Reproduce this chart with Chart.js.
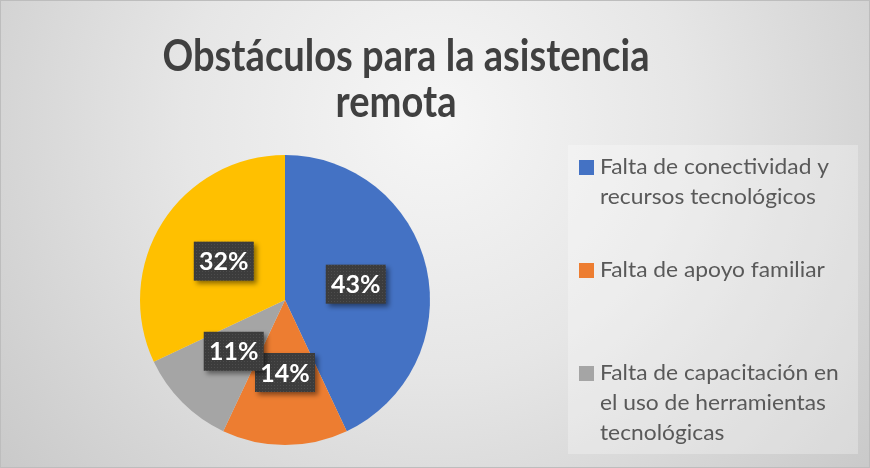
<!DOCTYPE html>
<html>
<head>
<meta charset="utf-8">
<script src="https://cdn.jsdelivr.net/npm/chart.js@4/dist/chart.umd.min.js"></script>
<style>
  html, body { margin: 0; padding: 0; background: #fff; }
  #wrap { position: relative; width: 870px; height: 468px; }
</style>
</head>
<body>
<div id="wrap"><canvas id="chart" width="870" height="468"></canvas></div>
<script>
// Data
const titleLines = ['Obstáculos para la asistencia', 'remota'];
const categories = [
  ['Falta de conectividad y', 'recursos tecnológicos'],
  ['Falta de apoyo familiar'],
  ['Falta de capacitación en', 'el uso de herramientas', 'tecnológicas'],
  ['Otros']
];
const values = [43, 14, 11, 32];
const colors = ['#4472C4', '#ED7D31', '#A5A5A5', '#FFC000'];
const legendShown = 3; // the last entry is clipped in the original

// Background with radial gradient, border and title
const bgPlugin = {
  id: 'bg',
  beforeDraw(chart) {
    const { ctx, width, height } = chart;
    ctx.save();
    const g = ctx.createRadialGradient(435, 120, 0, 435, 120, 560);
    g.addColorStop(0, '#f6f6f6');
    g.addColorStop(0.45, '#e6e6e6');
    g.addColorStop(1, '#c9c9c9');
    ctx.fillStyle = g;
    ctx.fillRect(0, 0, width, height);
    ctx.strokeStyle = '#bdbdbd';
    ctx.lineWidth = 1;
    ctx.strokeRect(0.5, 0.5, width - 1, height - 1);

    // title, squeezed a bit to mimic a narrower face
    ctx.fillStyle = '#404040';
    ctx.font = 'bold 43px Lato, "Liberation Sans", sans-serif';
    ctx.textAlign = 'center';
    ctx.textBaseline = 'alphabetic';
    const sx = 487 / ctx.measureText(titleLines[0]).width;
    ctx.translate(406, 0);
    ctx.scale(sx, 1);
    ctx.fillText(titleLines[0], 0, 71);
    ctx.fillText(titleLines[1], -10 / sx, 117);
    ctx.restore();
  }
};

// Legend on the right, inside a lighter box
const legendPlugin = {
  id: 'sideLegend',
  afterDraw(chart) {
    const { ctx } = chart;
    ctx.save();
    ctx.fillStyle = 'rgba(255,255,255,0.28)';
    ctx.fillRect(568, 145, 290, 309);
    ctx.font = '22px Lato, "Liberation Sans", sans-serif';
    ctx.textAlign = 'left';
    ctx.textBaseline = 'alphabetic';
    const sx = 229 / ctx.measureText(categories[0][0]).width;
    const starts = [174, 277, 380];
    for (let i = 0; i < legendShown; i++) {
      const y0 = starts[i];
      ctx.fillStyle = colors[i];
      ctx.fillRect(579, y0 - 14, 15, 15);
      ctx.fillStyle = '#595959';
      categories[i].forEach((line, k) => {
        ctx.save();
        ctx.translate(600, y0 + k * 30);
        ctx.scale(sx, 1);
        ctx.fillText(line, 0, 0);
        ctx.restore();
      });
    }
    ctx.restore();
  }
};

// Dark boxed percentage labels at each slice centroid
function makePattern(ctx) {
  const c = document.createElement('canvas');
  c.width = 3; c.height = 3;
  const p = c.getContext('2d');
  p.fillStyle = '#3c3c3c';
  p.fillRect(0, 0, 3, 3);
  p.fillStyle = '#4d4d4d';
  p.fillRect(1, 1, 1, 1);
  return ctx.createPattern(c, 'repeat');
}

const labelPlugin = {
  id: 'boxLabels',
  afterDatasetsDraw(chart) {
    const { ctx } = chart;
    const meta = chart.getDatasetMeta(0);
    const pattern = makePattern(ctx);
    const total = values.reduce((a, b) => a + b, 0);
    ctx.save();
    ctx.font = 'bold 25px Lato, "Liberation Sans", sans-serif';
    const boxes = meta.data.map((arc, i) => {
      const pos = arc.tooltipPosition();
      const txt = Math.round(values[i] / total * 100) + '%';
      return { x: pos.x, y: pos.y, txt };
    });
    boxes.forEach(b => {
      const w = 60, h = 39;
      ctx.save();
      ctx.shadowColor = 'rgba(0,0,0,0.45)';
      ctx.shadowBlur = 5;
      ctx.shadowOffsetX = 3;
      ctx.shadowOffsetY = 3;
      ctx.fillStyle = pattern;
      ctx.fillRect(b.x - w / 2, b.y - h / 2, w, h);
      ctx.restore();
    });
    ctx.fillStyle = '#ffffff';
    ctx.textAlign = 'center';
    ctx.textBaseline = 'middle';
    boxes.forEach(b => ctx.fillText(b.txt, b.x, b.y + 1));
    ctx.restore();
  }
};

new Chart(document.getElementById('chart'), {
  type: 'pie',
  data: {
    labels: categories,
    datasets: [{
      data: values,
      backgroundColor: colors,
      borderWidth: 0
    }]
  },
  options: {
    responsive: false,
    animation: false,
    layout: { padding: { left: 140, right: 440, top: 155, bottom: 23 } },
    plugins: {
      legend: { display: false },
      title: { display: false },
      tooltip: { enabled: false }
    }
  },
  plugins: [bgPlugin, legendPlugin, labelPlugin]
});
</script>
</body>
</html>
